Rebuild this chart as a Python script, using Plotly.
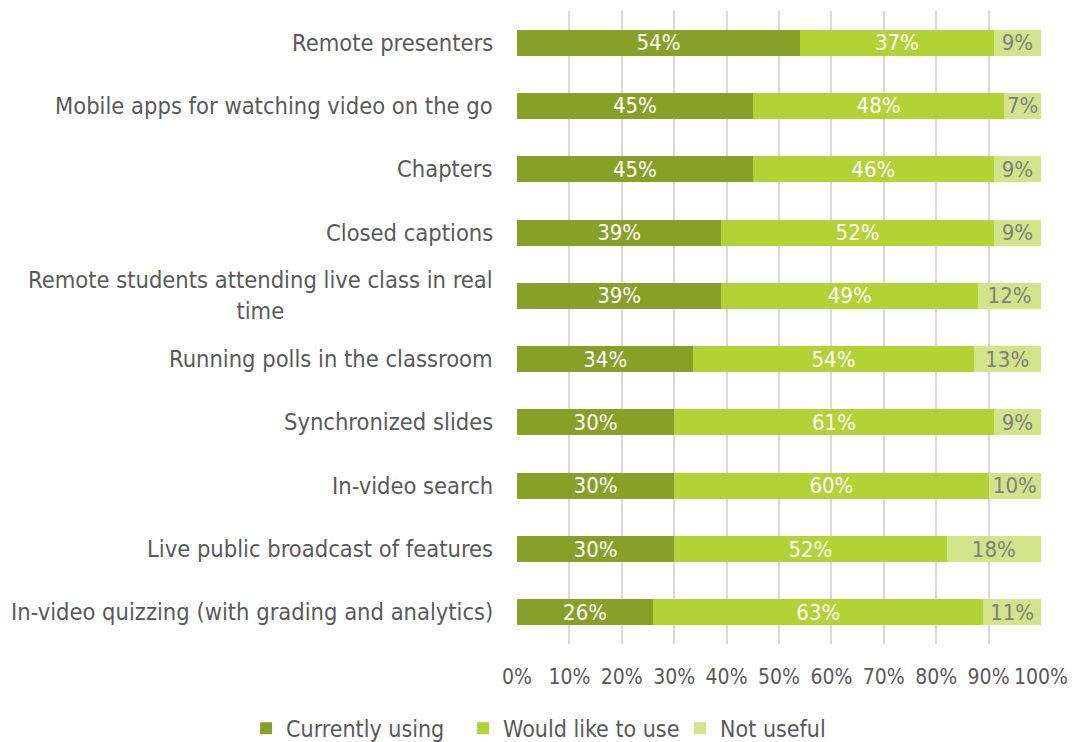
import plotly.graph_objects as go

features = [
    "Remote presenters",
    "Mobile apps for watching video on the go",
    "Chapters",
    "Closed captions",
    "Remote students attending live class in real<br>time",
    "Running polls in the classroom",
    "Synchronized slides",
    "In-video search",
    "Live public broadcast of features",
    "In-video quizzing (with grading and analytics)",
]
currently_using = [54, 45, 45, 39, 39, 34, 30, 30, 30, 26]
would_like_to_use = [37, 48, 46, 52, 49, 54, 61, 60, 52, 63]
not_useful = [9, 7, 9, 9, 12, 13, 9, 10, 18, 11]

x_ticks = list(range(0, 101, 10))
x_tick_labels = [f"{t}%" for t in x_ticks]

FONT = "DejaVu Sans Condensed, DejaVu Sans"
TEXT_GRAY = "#595959"
series = [
    ("Currently using", currently_using, "#88A027", "white"),
    ("Would like to use", would_like_to_use, "#B2D235", "white"),
    ("Not useful", not_useful, "#D2E38A", "#7F7F7F"),
]

fig = go.Figure()
for name, vals, color, txtcolor in series:
    fig.add_trace(go.Bar(
        y=features,
        x=vals,
        name=name,
        orientation="h",
        marker=dict(color=color, line=dict(width=0)),
        width=0.41,
        text=[f"{v}%" for v in vals],
        textposition="inside",
        insidetextanchor="middle",
        textfont=dict(family=FONT, size=22, color=txtcolor),
        constraintext="none",
        hoverinfo="skip",
    ))

# Category labels, centred on multiple lines
for f in features:
    fig.add_annotation(
        x=0, xref="paper", y=f, yref="y",
        text=f, showarrow=False, xanchor="right", align="center",
        xshift=-22, font=dict(family=FONT, size=23.5, color=TEXT_GRAY),
    )

fig.update_layout(
    barmode="stack",
    barnorm="percent",
    width=1074, height=742,
    margin=dict(l=517, r=33, t=11, b=98, autoexpand=False),
    plot_bgcolor="white", paper_bgcolor="white",
    font=dict(family=FONT, size=20, color=TEXT_GRAY),
    legend=dict(
        orientation="h", xref="paper", x=-0.517, xanchor="left",
        yref="paper", y=-0.133, yanchor="middle",
        font=dict(family=FONT, size=23, color=TEXT_GRAY),
        traceorder="normal", itemwidth=30,
        entrywidth=172, entrywidthmode="pixels",
    ),
    xaxis=dict(
        range=[0, 100], tickvals=x_ticks, ticktext=x_tick_labels,
        tickfont=dict(family=FONT, size=21, color=TEXT_GRAY),
        showgrid=True, gridcolor="#D9D9D9", gridwidth=2,
        zeroline=False, showline=False, ticks="",
        ticklabelstandoff=18, fixedrange=True,
    ),
    yaxis=dict(
        autorange="reversed", showticklabels=False, showgrid=False,
        zeroline=False, showline=False, ticks="",
    ),
    showlegend=True,
)

fig.write_html("out.html")
